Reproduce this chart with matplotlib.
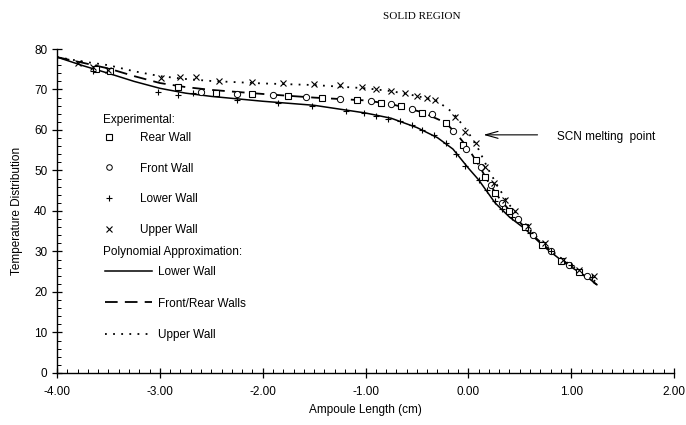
"""
Temperature distribution along the ampoule (solid region), experimental
points and polynomial approximations for each wall.
"""

import matplotlib
matplotlib.use('Agg')
import matplotlib.pyplot as plt
from matplotlib.lines import Line2D
from matplotlib.ticker import MultipleLocator, FormatStrFormatter

plt.rcParams['font.family'] = ['Liberation Sans', 'DejaVu Sans']

# Polynomial approximations.
poly_lower_x = [-4.0, -3.75, -3.5, -3.25, -3.0, -2.75, -2.5, -2.0, -1.5, -1.0,
                -0.75, -0.5, -0.3, -0.15, 0.0, 0.1, 0.26, 0.4, 0.55, 0.74,
                0.94, 1.16, 1.25]
poly_lower_y = [78.0, 75.9, 74.0, 72.0, 70.3, 69.1, 68.3, 67.1, 66.1, 64.2,
                62.9, 60.6, 58.1, 55.3, 50.6, 47.7, 42.0, 38.5, 35.6, 31.1,
                27.1, 23.6, 21.8]

poly_fr_x = [-4.0, -3.75, -3.5, -3.25, -3.0, -2.75, -2.5, -2.0, -1.5, -1.0,
             -0.75, -0.45, -0.22, -0.1, 0.0, 0.1, 0.2, 0.3, 0.45, 0.6,
             0.8, 1.0, 1.25]
poly_fr_y = [78.0, 76.6, 75.2, 73.3, 71.6, 70.6, 69.9, 68.9, 68.0, 67.3,
             66.4, 64.4, 61.8, 58.6, 55.4, 51.4, 46.9, 43.2, 38.6, 34.6,
             30.1, 26.3, 21.8]

poly_upper_x = [-4.0, -3.75, -3.5, -3.25, -3.0, -2.75, -2.5, -2.0, -1.5, -1.0,
                -0.75, -0.5, -0.3, -0.15, 0.0, 0.1, 0.2, 0.3, 0.4, 0.55,
                0.74, 0.94, 1.16, 1.25]
poly_upper_y = [78.0, 76.9, 76.0, 74.5, 73.3, 72.6, 72.1, 71.5, 71.1, 70.3,
                69.6, 68.4, 67.1, 64.3, 59.4, 55.2, 50.0, 45.5, 41.5, 36.6,
                31.6, 27.6, 24.0, 22.3]

# Experimental points.
rear_x = [-3.62, -3.48, -2.82, -2.45, -2.10, -1.75, -1.42, -1.08, -0.85, -0.65,
          -0.45, -0.22, -0.05, 0.07, 0.16, 0.26, 0.40, 0.55, 0.72, 0.90, 1.08]
rear_y = [75.0, 74.5, 70.6, 69.2, 68.8, 68.4, 67.9, 67.3, 66.7, 65.9,
          64.3, 61.7, 56.3, 52.6, 48.4, 44.5, 40.0, 36.0, 31.5, 27.6, 25.0]

front_x = [-2.60, -2.25, -1.90, -1.58, -1.25, -0.95, -0.75, -0.55, -0.35, -0.15,
           -0.02, 0.12, 0.22, 0.33, 0.48, 0.63, 0.80, 0.98, 1.15]
front_y = [69.4, 68.9, 68.6, 68.2, 67.6, 67.1, 66.4, 65.3, 63.9, 59.7,
           55.3, 50.9, 46.5, 42.0, 38.0, 34.0, 30.0, 26.6, 24.0]

lower_x = [-3.65, -3.02, -2.82, -2.68, -2.25, -1.85, -1.52, -1.19, -1.01, -0.90,
           -0.78, -0.66, -0.55, -0.45, -0.33, -0.22, -0.12, -0.03, 0.10, 0.18,
           0.26, 0.33, 0.42, 0.60, 0.80, 1.00, 1.20]
lower_y = [74.5, 69.5, 68.7, 69.1, 67.5, 66.7, 65.9, 64.6, 64.1, 63.4,
           62.8, 62.1, 61.3, 60.1, 58.7, 56.8, 54.1, 51.2, 47.7, 45.2,
           42.5, 40.5, 38.5, 34.5, 30.0, 26.6, 23.6]

upper_x = [-3.80, -3.65, -3.50, -2.99, -2.80, -2.65, -2.42, -2.10, -1.80, -1.50,
           -1.25, -1.03, -0.90, -0.75, -0.62, -0.50, -0.40, -0.32, -0.13, -0.03,
           0.07, 0.16, 0.25, 0.36, 0.45, 0.58, 0.75, 0.92, 1.08, 1.22]
upper_y = [76.5, 75.5, 74.8, 72.9, 73.1, 73.0, 72.1, 71.9, 71.6, 71.4,
           71.1, 70.5, 70.1, 69.6, 69.1, 68.3, 67.9, 67.3, 63.3, 59.6,
           56.8, 50.9, 47.0, 42.8, 40.0, 36.3, 32.0, 28.0, 25.5, 24.0]

fig = plt.figure(figsize=(6.86, 4.25), dpi=100)
ax = fig.add_axes([0.0831, 0.1224, 0.8994, 0.7623])

ink = 'black'
ax.plot(poly_lower_x, poly_lower_y, color=ink, lw=1.1, ls='-')
ax.plot(poly_fr_x, poly_fr_y, color=ink, lw=1.3, ls=(0, (7, 4)))
ax.plot(poly_upper_x, poly_upper_y, color=ink, lw=1.3, ls=(0, (1, 3.5)))

ax.plot(rear_x, rear_y, ls='none', marker='s', ms=5, mfc='white', mec=ink, mew=0.8)
ax.plot(front_x, front_y, ls='none', marker='o', ms=4.5, mfc='white', mec=ink, mew=0.7)
ax.plot(lower_x, lower_y, ls='none', marker='+', ms=5, mec=ink, mew=0.8)
ax.plot(upper_x, upper_y, ls='none', marker='x', ms=4.5, mec=ink, mew=0.8)

ax.set_xlim(-4.0, 2.0)
ax.set_ylim(0, 80)
ax.xaxis.set_major_locator(MultipleLocator(1.0))
ax.xaxis.set_minor_locator(MultipleLocator(0.1))
ax.xaxis.set_major_formatter(FormatStrFormatter('%.2f'))
ax.yaxis.set_major_locator(MultipleLocator(10))
ax.yaxis.set_minor_locator(MultipleLocator(2))
ax.tick_params(which='major', direction='inout', length=7, width=0.9,
               labelsize=8.5, colors=ink)
ax.tick_params(which='minor', direction='in', length=3, width=0.7)
ax.tick_params(axis='x', pad=6)
ax.spines['top'].set_visible(False)
ax.spines['right'].set_visible(False)
ax.spines['left'].set_linewidth(1.0)
ax.spines['bottom'].set_linewidth(1.0)

ax.set_xlabel('Ampoule Length (cm)', fontsize=8.5, labelpad=4)
ax.set_ylabel('Temperature Distribution', fontsize=8.5, labelpad=8)
fig.text(0.615, 0.962, 'SOLID REGION', family='Liberation Serif',
         fontsize=8, ha='center', va='center')

# Arrow pointing at the melting point
ax.annotate('', xy=(0.12, 58.8), xytext=(0.70, 58.8),
            arrowprops=dict(arrowstyle='->,head_length=0.9,head_width=0.25',
                            color=ink, lw=0.8))
ax.text(0.86, 58.3, 'SCN melting  point', fontsize=8.5, va='center', ha='left')

# Legends, with their headers as plain text
ax.text(0.0746, 0.781, 'Experimental:', transform=ax.transAxes,
        fontsize=8.5, ha='left', va='center')
ax.text(0.0746, 0.373, 'Polynomial Approximation:', transform=ax.transAxes,
        fontsize=8.5, ha='left', va='center')

exp_handles = [
    Line2D([], [], ls='none', marker='s', ms=5, mfc='white', mec=ink, mew=0.8),
    Line2D([], [], ls='none', marker='o', ms=4, mfc='white', mec=ink, mew=0.7),
    Line2D([], [], ls='none', marker='+', ms=5, mec=ink, mew=0.8),
    Line2D([], [], ls='none', marker='x', ms=4, mec=ink, mew=0.8),
]
exp_labels = ['Rear Wall', 'Front Wall', 'Lower Wall', 'Upper Wall']
leg1 = ax.legend(exp_handles, exp_labels, loc='upper left',
                 bbox_to_anchor=(0.075, 0.744), frameon=False, fontsize=8.5,
                 handlelength=0.9, handletextpad=2.2, labelspacing=1.58,
                 borderpad=0, borderaxespad=0)
ax.add_artist(leg1)

fit_handles = [
    Line2D([], [], color=ink, lw=1.1, ls='-'),
    Line2D([], [], color=ink, lw=1.3, ls=(0, (7, 4))),
    Line2D([], [], color=ink, lw=1.3, ls=(0, (1, 3.5))),
]
fit_labels = ['Lower Wall', 'Front/Rear Walls', 'Upper Wall']
ax.legend(fit_handles, fit_labels, loc='upper left',
          bbox_to_anchor=(0.078, 0.330), frameon=False, fontsize=8.5,
          handlelength=4.0, handletextpad=0.5, labelspacing=1.65,
          borderpad=0, borderaxespad=0)

fig.savefig('out.png', dpi=100)
